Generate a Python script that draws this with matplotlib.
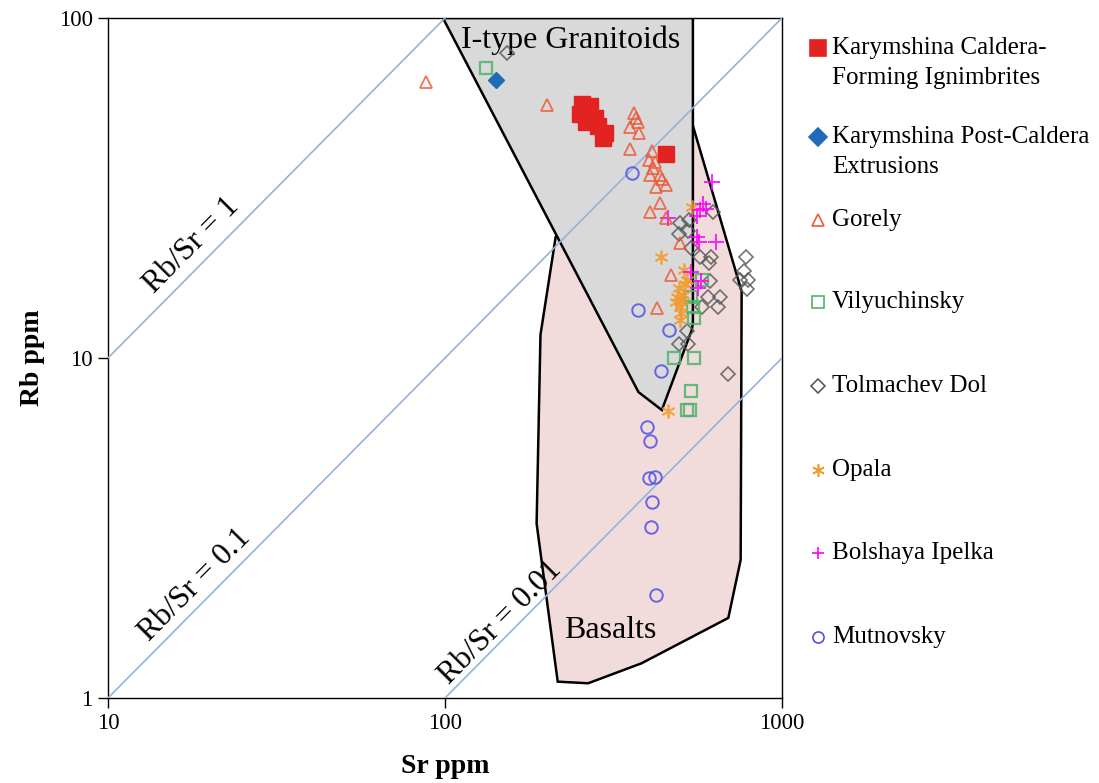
import matplotlib
matplotlib.use("Agg")
import matplotlib.pyplot as plt
from matplotlib.lines import Line2D
from matplotlib.patches import Polygon
import numpy as np

plt.rcParams['font.family'] = ['Liberation Serif', 'DejaVu Serif']

# ---------------- data (Sr ppm, Rb ppm) ----------------
caldera_sr = [255, 269, 252, 266, 279, 262, 284, 298, 295, 453]
caldera_rb = [55.8, 55.1, 52.2, 51.5, 50.8, 49.5, 48.1, 45.9, 44.4, 39.8]

postcaldera_sr = [142]
postcaldera_rb = [65.7]

gorely_sr = [87.8, 200.8, 363.8, 368.8, 373.9, 354, 376.5, 354, 411.5, 403, 420, 414,
             405.8, 434.5, 440.6, 422.7, 452.6, 434.5, 405.8, 452.6, 498, 468.4, 425.6]
gorely_rb = [64.8, 55.5, 52.6, 50.8, 49.4, 47.8, 45.9, 41.2, 40.6, 38.2, 37.7, 36.2,
             34.5, 34.5, 33.6, 31.8, 32.3, 28.6, 26.9, 25.8, 21.8, 17.5, 14.0]

vily_sr = [132, 578, 537, 546, 549, 479, 549, 537, 521, 532]
vily_rb = [71.4, 17.0, 15.15, 14.1, 13.1, 10.0, 10.0, 8.0, 7.03, 7.03]

tolm_sr = [153, 498, 530, 495, 526, 537, 571, 615, 607, 624, 782, 771, 793, 787, 750,
           603, 655, 579, 646, 523, 495, 526, 692, 611]
tolm_rb = [79, 24.9, 25.5, 23.2, 23.6, 21.1, 19.8, 19.8, 19.0, 26.9, 19.8, 18.0, 17.0, 16.0, 17.0,
           15.1, 15.1, 14.1, 14.1, 12.0, 11.0, 11.0, 9.0, 16.8]

opala_sr = [540, 436, 512, 523, 495, 488, 508, 485, 505, 498, 502, 498, 459, 515]
opala_rb = [27.8, 19.8, 18.2, 17.0, 16.1, 15.1, 15.3, 14.6, 14.8, 14.1, 13.6, 12.9, 7.0, 16.5]

ipelka_sr = [620, 583, 595, 571, 560, 459, 560, 567, 637, 537, 575, 563]
ipelka_rb = [32.9, 28.4, 27.4, 27.2, 26.2, 25.8, 22.7, 21.9, 21.9, 17.9, 16.8, 16.1]

mutn_sr = [358, 375, 462, 437.5, 397, 406, 403, 420, 412, 409, 423]
mutn_rb = [34.9, 13.8, 12.1, 9.18, 6.28, 5.70, 4.43, 4.48, 3.78, 3.18, 2.01]

# field polygons (Sr, Rb)
granitoid_sr = [98.6, 544, 544, 540, 440, 375]
granitoid_rb = [100, 100, 12.7, 12.1, 7.03, 7.94]
basalt_sr = [213, 545, 759, 754, 693, 383, 266, 216, 187, 192]
basalt_rb = [22.7, 47.9, 15.7, 2.55, 1.72, 1.265, 1.105, 1.117, 3.26, 11.7]

ratios = [1, 0.1, 0.01]
ratio_labels = ["Rb/Sr = 1", "Rb/Sr = 0.1", "Rb/Sr = 0.01"]
ratio_label_sr = [17.75, 18.1, 145.6]
ratio_label_off = [20, 18, 14.5]

x_ticks = [10, 100, 1000]
x_ticklabels = ["10", "100", "1000"]
y_ticks = [1, 10, 100]
y_ticklabels = ["1", "10", "100"]

series_labels = ["Karymshina Caldera-\nForming Ignimbrites",
                 "Karymshina Post-Caldera\nExtrusions",
                 "Gorely", "Vilyuchinsky", "Tolmachev Dol", "Opala",
                 "Bolshaya Ipelka", "Mutnovsky"]

# ---------------- figure ----------------
W, H = 1099, 783
fig = plt.figure(figsize=(W / 100, H / 100), dpi=100)
ax = fig.add_axes([108 / W, 1 - 698 / H, 674 / W, 680 / H])
ax.set_xscale('log')
ax.set_yscale('log')
ax.set_xlim(10, 1000)
ax.set_ylim(1, 100)

ax.add_patch(Polygon(np.column_stack([basalt_sr, basalt_rb]), closed=True,
                     facecolor='#f2dcdb', edgecolor='black', lw=1.8, zorder=1))
ax.add_patch(Polygon(np.column_stack([granitoid_sr, granitoid_rb]), closed=True,
                     facecolor='#d9d9d9', edgecolor='black', lw=1.8, zorder=2))

xs = np.array([10, 1000])
for r in ratios:
    ax.plot(xs, xs * r, color='#95b3d7', lw=1.2, zorder=3)

# rotation angle of a 1:1 line in display space
p0 = ax.transData.transform((10, 1))
p1 = ax.transData.transform((1000, 100))
ang = np.degrees(np.arctan2(p1[1] - p0[1], p1[0] - p0[0]))
for r, lab, s, off in zip(ratios, ratio_labels, ratio_label_sr, ratio_label_off):
    ax.annotate(lab, (s, s * r), xytext=(0, off), textcoords='offset points',
                rotation=ang, rotation_mode='anchor', ha='center', va='center',
                fontsize=22.5, color='black', zorder=4)

ax.text(0.687, 0.968, "I-type Granitoids", transform=ax.transAxes, ha='center',
        va='center', fontsize=23, zorder=5)
ax.text(0.745, 0.10, "Basalts", transform=ax.transAxes, ha='center',
        va='center', fontsize=23, zorder=5)

styles = [
    dict(marker='s', color='#e32222', mfc='#e32222', ms=11),
    dict(marker='D', color='#1f6bb5', mfc='#1f6bb5', ms=8),
    dict(marker='^', color='#ec5a3a', mfc='none', ms=9, mew=1.3),
    dict(marker='s', color='#4cb46a', mfc='none', ms=9, mew=1.6),
    dict(marker='D', color='#5a5a5a', mfc='none', ms=7.5, mew=1.2),
    dict(marker=(6, 2, 0), color='#f29a2e', mfc='none', ms=10, mew=1.3),
    dict(marker='+', color='#ff00ff', mfc='none', ms=11, mew=1.4),
    dict(marker='o', color='#5050e6', mfc='none', ms=9, mew=1.4),
]
data = [(caldera_sr, caldera_rb), (postcaldera_sr, postcaldera_rb),
        (gorely_sr, gorely_rb), (vily_sr, vily_rb), (tolm_sr, tolm_rb),
        (opala_sr, opala_rb), (ipelka_sr, ipelka_rb), (mutn_sr, mutn_rb)]
plot_order = [7, 4, 3, 5, 6, 2, 1, 0]
for i in plot_order:
    sx, sy = data[i]
    st = styles[i]
    ax.plot(sx, sy, linestyle='none', marker=st['marker'], color=st['color'],
            mfc=st['mfc'], mec=st['color'], ms=st['ms'], mew=st.get('mew', 1),
            alpha=0.85 if i > 1 else 1.0, zorder=6 + (i < 2))

ax.set_xticks(x_ticks)
ax.set_xticklabels(x_ticklabels)
ax.set_yticks(y_ticks)
ax.set_yticklabels(y_ticklabels)
ax.minorticks_off()
ax.tick_params(axis='both', which='major', direction='out', length=7, width=1,
               labelsize=16.5, pad=4)
for sp in ax.spines.values():
    sp.set_linewidth(1.0)
    sp.set_color('black')

ax.set_xlabel("Sr ppm", fontsize=20, fontweight='bold', labelpad=14)
ax.set_ylabel("Rb ppm", fontsize=20, fontweight='bold', labelpad=10)

# ---------------- legend (manual, Excel-like) ----------------
leg_y = [48, 137, 220, 302, 386, 470, 553, 637]
leg_ms = [12, 9, 8, 8, 7, 9, 9, 8]
for i, lab in enumerate(series_labels):
    st = styles[i]
    y = 1 - leg_y[i] / H
    fig.add_artist(Line2D([818 / W], [y], transform=fig.transFigure,
                          marker=st['marker'], color=st['color'], mfc=st['mfc'],
                          mec=st['color'], ms=leg_ms[i], mew=1.2, linestyle='none'))
    for j, line in enumerate(lab.split("\n")):
        fig.text(832 / W, 1 - (leg_y[i] + 30 * j) / H, line, ha='left',
                 va='center', fontsize=18)

fig.savefig("out.png", dpi=100)
